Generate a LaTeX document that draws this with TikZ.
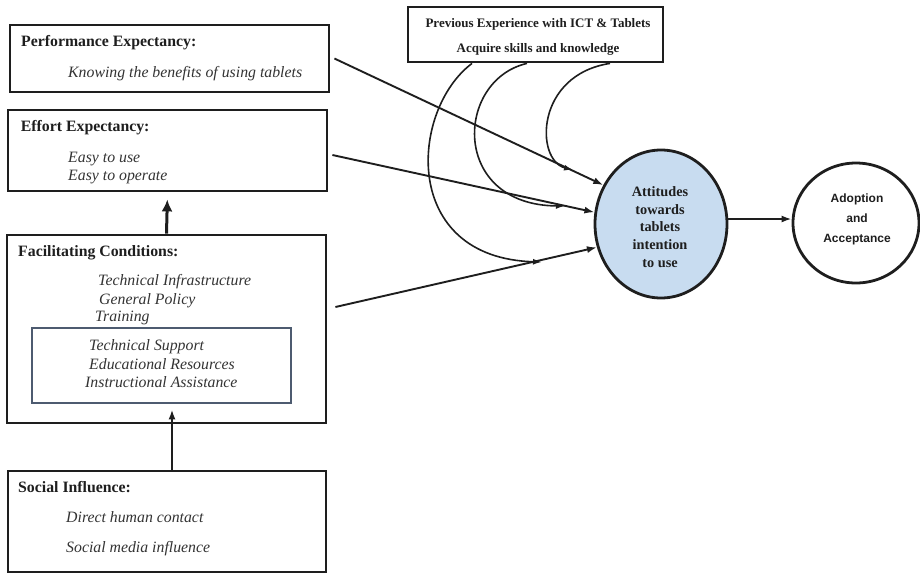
\documentclass[tikz,border=0pt]{standalone}
\usepackage{fontspec}
\setmainfont{Liberation Serif}
\newfontfamily\adsans{Liberation Sans}
\usetikzlibrary{arrows.meta,shapes.geometric}
\definecolor{ink}{HTML}{1E1E1E}
\definecolor{inkit}{HTML}{333333}
\definecolor{slate}{HTML}{4D5B70}
\definecolor{attfill}{HTML}{C8DCF0}
\begin{document}
\begin{tikzpicture}[x=1pt,y=-1pt,
  box/.style={draw=ink, line width=2.8pt, inner sep=0pt},
  hd/.style={anchor=base west, inner sep=0pt, text=ink, font=\fontsize{15.8}{18}\selectfont\bfseries},
  itx/.style={anchor=base west, inner sep=0pt, text=inkit, font=\fontsize{15.8}{18}\selectfont\itshape},
  arr/.style={draw=ink, line width=1.9pt, -{Latex[length=10pt,width=7pt]}},
  cur/.style={draw=ink, line width=1.6pt, -{Latex[length=9pt,width=6pt]}}]
\useasboundingbox (0,0) rectangle (920,574);

% left boxes
\node[box, minimum width=319pt, minimum height=67pt] (pe) at (169.5,58.5) {};
\node[box, minimum width=319pt, minimum height=81pt] (ee) at (167.5,150.5) {};
\node[box, minimum width=319pt, minimum height=188pt] (fc) at (166.5,329) {};
\node[box, draw=slate, minimum width=259pt, minimum height=75pt] (inner) at (161.5,365.5) {};
\node[box, minimum width=318pt, minimum height=101pt] (si) at (167,521.5) {};

% texts
\node[hd] (peh) at (21,46.7) {Performance Expectancy:};
\node[itx] (pe1) at (68,77.3) {Knowing the benefits of using tablets};
\node[hd] (eeh) at (20.7,131.7) {Effort Expectancy:};
\node[itx] (ee1) at (68,162.7) {Easy to use};
\node[itx] (ee2) at (68,180) {Easy to operate};
\node[hd] (fch) at (18,256.7) {Facilitating Conditions:};
\node[itx] (fc1) at (98,285.7) {Technical Infrastructure};
\node[itx] (fc2) at (99,304) {General Policy};
\node[itx] (fc3) at (95,321.7) {Training};
\node[itx] (fc4) at (89,350.7) {Technical Support};
\node[itx] (fc5) at (89,369) {Educational Resources};
\node[itx] (fc6) at (85,387.3) {Instructional Assistance};
\node[hd] (sih) at (18,492.7) {Social Influence:};
\node[itx] (si1) at (66,522.3) {Direct human contact};
\node[itx] (si2) at (66,552.3) {Social media influence};

% previous experience
\node[box, minimum width=255pt, minimum height=55pt] (prev) at (535.5,34.5) {};
\node[anchor=base, inner sep=0pt, text=ink, font=\fontsize{13}{15}\selectfont\bfseries] (prev1) at (538,27.3) {Previous Experience with ICT \& Tablets};
\node[anchor=base, inner sep=0pt, text=ink, font=\fontsize{13}{15}\selectfont\bfseries] (prev2) at (538,52.7) {Acquire skills and knowledge};

% ellipses
\node[ellipse, draw=ink, line width=2.8pt, fill=attfill, minimum width=132pt, minimum height=148pt, inner sep=0pt] (att) at (661,224) {};
\node[align=center, inner sep=0pt, text=ink, font=\fontsize{14.3}{17.8}\selectfont\bfseries] (attt) at (660,227) {Attitudes\\towards\\tablets\\intention\\to use};
\node[ellipse, draw=ink, line width=2.8pt, minimum width=126pt, minimum height=120pt, inner sep=0pt] (ado) at (856,223) {};
\node[align=center, inner sep=0pt, text=ink, font=\adsans\fontsize{12}{20}\selectfont\bfseries] (adot) at (857,219) {Adoption\\and\\Acceptance};

% arrows
\draw[arr] ([xshift=4pt]pe.east) -- (att.146);
\draw[arr] ([xshift=4pt,yshift=-4.5pt]ee.east) -- (att.170);
\draw[arr] ([xshift=8pt,yshift=22pt]fc.east) -- (att.200);
\draw[arr] (att.east |- 0,219) -- (ado.west |- 0,219);
\draw[draw=ink, line width=3pt, -{Latex[length=12pt,width=11pt]}, shorten >=7pt] (fc.north) -- (ee.south);
\draw[arr, shorten >=5pt] ([xshift=5pt]si.north) -- ([xshift=5pt]si.north |- inner.south);

% curves from previous experience
\coordinate (c1) at (542,262);
\coordinate (c2) at (565,206);
\coordinate (c3) at (573,170);
\draw[cur] (prev.south -| 472,0) .. controls (410,110) and (400,258) .. (c1);
\draw[cur] (prev.south -| 527,0) .. controls (455,80) and (450,205) .. (c2);
\draw[cur] (prev.south -| 610,0) .. controls (535,75) and (535,160) .. (c3);
\end{tikzpicture}
\end{document}
